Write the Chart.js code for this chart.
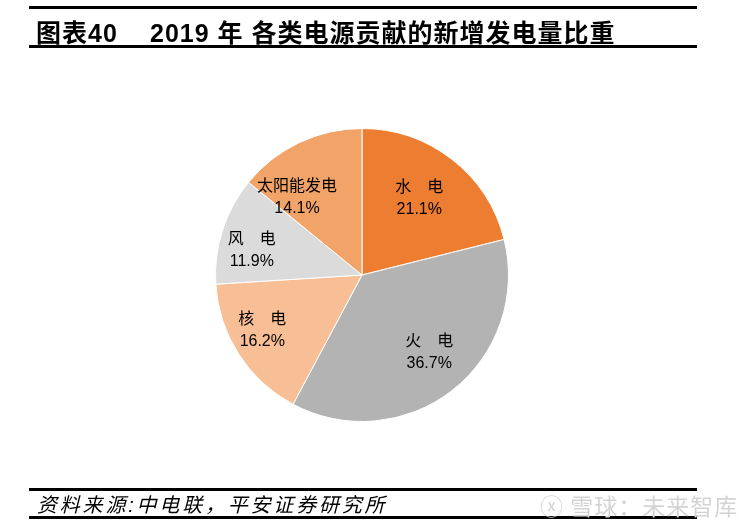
<!DOCTYPE html>
<html>
<head>
<meta charset="utf-8">
<script src="https://cdn.jsdelivr.net/npm/chart.js@4.4.1/dist/chart.umd.min.js"></script>
<style>
  body { margin: 0; background: #fff; }
  #wrap { position: relative; width: 739px; height: 523px; overflow: hidden; }
  canvas { position: absolute; left: 0; top: 0; }
  .rule { position: absolute; left: 29px; width: 668px; height: 3px; background: #000; }
  #title { position: absolute; left: 36px; top: 13px; font: bold 25px "Liberation Sans", "Noto Sans CJK SC", sans-serif; white-space: pre; color: #000; }
  #title .num { letter-spacing: 1px; }
  #title .rest { position: absolute; left: 114px; top: 0; letter-spacing: 1px; }
  #source { position: absolute; left: 37px; top: 489px; font: italic 20px "Liberation Sans", "Noto Sans CJK SC", sans-serif; letter-spacing: 2.8px; white-space: pre; }
  #mark { position: absolute; left: 540px; top: 488px; font: 23px "Noto Sans CJK SC", sans-serif; color: #d4d4d4; letter-spacing: 1px; white-space: pre; }
</style>
</head>
<body>
<div id="wrap">
  <canvas id="pie" width="739" height="523"></canvas>
  <div class="rule" style="top:6px"></div>
  <div id="title"><span class="num">图表40</span><span class="rest">2019 年 各类电源贡献的新增发电量比重</span></div>
  <div class="rule" style="top:45px"></div>
  <div class="rule" style="top:488px"></div>
  <div id="source">资料来源:中电联，平安证券研究所</div>
  <div class="rule" style="top:516px"></div>
  <div id="mark">ⓧ 雪球：未来智库</div>
</div>
<script>
const categories = ['水\u3000电', '火\u3000电', '核\u3000电', '风\u3000电', '太阳能发电'];
const shares = [21.1, 36.7, 16.2, 11.9, 14.1];
const sliceColors = ['#ED7D31', '#B3B3B3', '#F8BF96', '#DBDBDB', '#F2A368'];

// where each label sits: fraction of the radius, and a small turn (degrees) off the slice middle
const labelRadius = [0.65, 0.70, 0.78, 0.77, 0.69];
const labelTurn = [-1, -3, 3.5, -5.5, -14.6];

const sliceLabels = {
    id: 'sliceLabels',
    afterDatasetsDraw(chart) {
        const ctx = chart.ctx;
        const meta = chart.getDatasetMeta(0);
        ctx.save();
        ctx.fillStyle = '#000';
        ctx.textAlign = 'center';
        ctx.textBaseline = 'middle';
        ctx.font = '16px "Liberation Sans", "Noto Sans CJK SC", sans-serif';
        meta.data.forEach((arc, i) => {
            const p = arc.getProps(['x', 'y', 'startAngle', 'endAngle', 'outerRadius'], true);
            const mid = (p.startAngle + p.endAngle) / 2 + labelTurn[i] * Math.PI / 180;
            const r = p.outerRadius * labelRadius[i];
            const cx = p.x + Math.cos(mid) * r;
            const cy = p.y + Math.sin(mid) * r;
            ctx.fillText(categories[i], cx, cy - 11);
            ctx.fillText(shares[i].toFixed(1) + '%', cx, cy + 11);
        });
        ctx.restore();
    }
};

new Chart(document.getElementById('pie').getContext('2d'), {
    type: 'pie',
    data: {
        labels: categories,
        datasets: [{
            data: shares,
            backgroundColor: sliceColors,
            borderColor: '#fff',
            borderWidth: 1
        }]
    },
    options: {
        responsive: false,
        animation: false,
        layout: { padding: { top: 128, bottom: 101, left: 215, right: 230 } },
        plugins: {
            legend: { display: false },
            tooltip: { enabled: false }
        }
    },
    plugins: [sliceLabels]
});
</script>
</body>
</html>
